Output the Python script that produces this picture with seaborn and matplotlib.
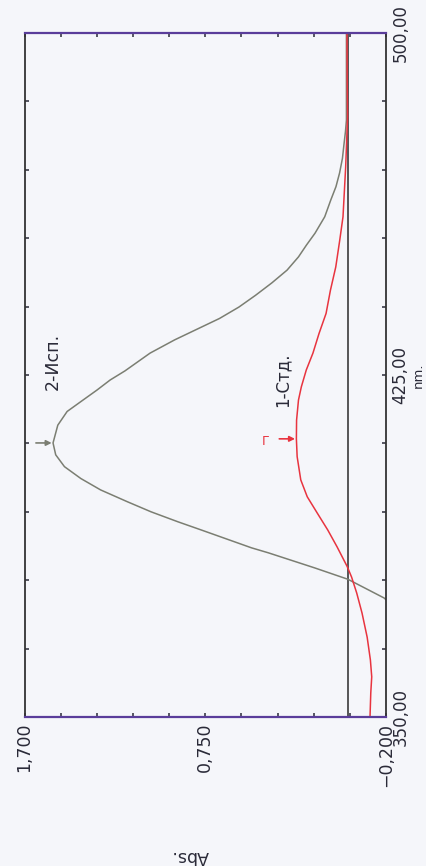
import numpy as np
import pandas as pd
import matplotlib
matplotlib.use("Agg")
import matplotlib.pyplot as plt
import seaborn as sns

# Absorption spectra: wavelength (nm) vs absorbance
sample_nm = [372.0, 376.1, 380.2, 382.7, 386.0, 387.1, 391.0, 392.8, 395.0, 397.2,
             399.8, 402.3, 404.9, 407.5, 410.1, 414.0, 417.0, 419.1, 421.7, 423.9,
             425.9, 429.8, 432.7, 437.4, 439.9, 442.5, 445.2, 448.0, 450.9, 453.5,
             456.1, 459.7, 463.4, 466.3, 469.3, 472.5, 475.9, 478.4, 480.9, 490.0,
             500.0]
sample_abs = [-0.30, -0.19, 0.00, 0.175, 0.418, 0.507, 0.77, 0.893, 1.035, 1.159,
              1.30, 1.404, 1.49, 1.536, 1.55, 1.525, 1.476, 1.406, 1.319, 1.25,
              1.172, 1.04, 0.911, 0.675, 0.573, 0.485, 0.40, 0.32, 0.26, 0.218,
              0.173, 0.122, 0.09, 0.063, 0.044, 0.029, 0.02, 0.013, 0.008, 0.008,
              0.008]

std_nm = [350.0, 355.3, 358.8, 362.5, 367.5, 372.8, 377.2, 380.7, 383.0, 387.3,
          391.0, 394.7, 398.3, 402.0, 407.1, 411.0, 415.1, 419.5, 422.4, 426.1,
          429.8, 434.1, 438.5, 443.6, 448.7, 454.6, 459.7, 470.6, 481.6, 490.0,
          500.0]
std_abs = [-0.116, -0.120, -0.125, -0.118, -0.101, -0.074, -0.046, -0.019, 0.004, 0.057,
           0.106, 0.161, 0.214, 0.248, 0.267, 0.271, 0.270, 0.260, 0.245, 0.219,
           0.184, 0.152, 0.115, 0.092, 0.064, 0.043, 0.026, 0.012, 0.002, 0.004,
           0.005]

sample_name = "2-Исп."
std_name = "1-Стд."

abs_ticks = [1.7, 0.75, -0.2]
abs_labels = ["1,700", "0,750", "\u22120,200"]
nm_ticks = [350, 425, 500]
nm_labels = ["350,00", "425,00", "500,00"]

sample_peak = (1.55, 410.1)
std_peak = (0.271, 411.0)

paper = "#f5f6fa"
ink = "#2a2a38"
gray_line = "#7b7e72"
red_line = "#e8343f"

sns.set_style("ticks")
plt.rcParams["font.family"] = ["DejaVu Sans"]
plt.rcParams["axes.unicode_minus"] = True

fig = plt.figure(figsize=(4.26, 8.66), dpi=100, facecolor=paper)
ax = fig.add_axes([24.5 / 426, 1 - 717 / 866, 361.5 / 426, 684 / 866])
ax.set_facecolor(paper)

df_sample = pd.DataFrame({"nm": sample_nm, "abs": sample_abs})
df_std = pd.DataFrame({"nm": std_nm, "abs": std_abs})

sns.lineplot(data=df_sample, x="abs", y="nm", orient="y", estimator=None,
             color=gray_line, lw=1.1, ax=ax, solid_joinstyle="round")
sns.lineplot(data=df_std, x="abs", y="nm", orient="y", estimator=None,
             color=red_line, lw=1.1, ax=ax, solid_joinstyle="round")

# zero-absorbance baseline
ax.axvline(0.0, color="#3a3a3a", lw=1.2, zorder=1)

ax.set_xlim(abs_ticks[0], abs_ticks[-1])
ax.set_ylim(nm_ticks[0], nm_ticks[-1])

# ticks: 10 divisions on each axis, long marks on even divisions
abs_grid = np.linspace(abs_ticks[0], abs_ticks[-1], 11)
abs_grid_labels = [""] * 11
abs_grid_labels[0], abs_grid_labels[5], abs_grid_labels[10] = abs_labels
ax.set_xticks(abs_grid, abs_grid_labels)
ax.set_xticks(abs_grid[2:9:2], minor=True)

nm_grid = np.linspace(nm_ticks[0], nm_ticks[-1], 11)
nm_grid_labels = [""] * 11
nm_grid_labels[0], nm_grid_labels[5], nm_grid_labels[10] = nm_labels
ax.set_yticks(nm_grid, nm_grid_labels)
ax.set_yticks(nm_grid[2:9:2], minor=True)

ax.tick_params(axis="x", which="both", direction="in", top=True, bottom=True,
               color=ink, width=1.1)
ax.tick_params(axis="x", which="major", length=3, pad=4, labelsize=12.5,
               labelcolor=ink, labelrotation=90)
ax.tick_params(axis="x", which="minor", length=8)
ax.tick_params(axis="y", which="both", direction="in", left=True, right=True,
               labelleft=False, labelright=True, color=ink, width=1.1)
ax.tick_params(axis="y", which="major", length=3, pad=4, labelsize=12,
               labelcolor=ink)
ax.tick_params(axis="y", which="minor", length=8)
for t in ax.get_yticklabels():
    t.set_rotation(90)
    t.set_va("center")
    t.set_ha("left")

for side in ("left", "right"):
    ax.spines[side].set_color("#333333")
    ax.spines[side].set_linewidth(1.3)
for side in ("top", "bottom"):
    ax.spines[side].set_color("#5a3d9a")
    ax.spines[side].set_linewidth(1.6)

# axis titles
ax.yaxis.set_label_position("right")
ax.set_ylabel("nm.", fontsize=9.5, color=ink, rotation=90)
ax.yaxis.label.set(ha="center", va="center", rotation_mode="default")
ax.yaxis.set_label_coords(1.090, 0.50)

ax.set_xlabel("Abs.", fontsize=12.5, color=ink, rotation=180)
ax.xaxis.label.set(ha="center", va="top", rotation_mode="default")
ax.xaxis.set_label_coords(0.458, -0.190)

# curve names
ax.text(1.55, 427.9, sample_name, rotation=90, fontsize=12.5, color=ink,
        ha="center", va="center")
ax.text(0.343, 423.9, std_name, rotation=90, fontsize=12, color=ink,
        ha="center", va="center")

# peak markers
ax.annotate("", xy=(sample_peak[0], sample_peak[1]),
            xytext=(sample_peak[0] + 0.09, sample_peak[1]),
            arrowprops=dict(arrowstyle="-|>", color=gray_line, lw=1.2,
                            mutation_scale=8, shrinkA=0, shrinkB=1))
ax.annotate("", xy=(std_peak[0], std_peak[1]),
            xytext=(std_peak[0] + 0.09, std_peak[1]),
            arrowprops=dict(arrowstyle="-|>", color=red_line, lw=1.2,
                            mutation_scale=8, shrinkA=0, shrinkB=1))
ax.text(std_peak[0] + 0.16, std_peak[1] - 0.6, "Г", fontsize=9, color=red_line,
        ha="center", va="center")

fig.savefig("out.png", dpi=100, facecolor=paper)
